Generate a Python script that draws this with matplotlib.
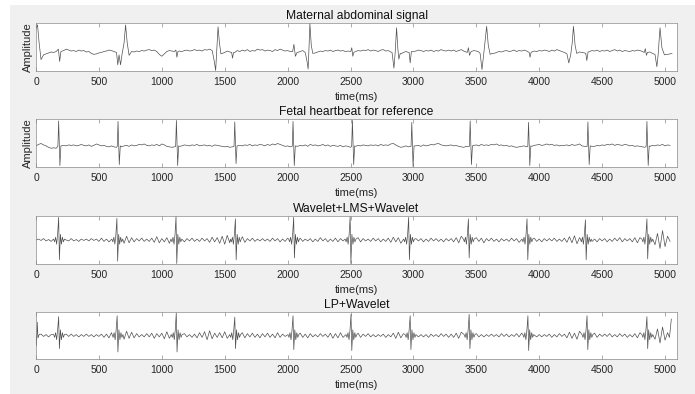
import numpy as np
import matplotlib.pyplot as plt
from matplotlib.patches import Rectangle

plt.rcParams['font.family'] = ['Liberation Sans', 'DejaVu Sans']

step_ms = 20  # spacing of the baseline samples

titles = ['Maternal abdominal signal', 'Fetal heartbeat for reference',
          'Wavelet+LMS+Wavelet', 'LP+Wavelet']
ylabels = ['Amplitude', 'Amplitude', '', '']
tick_vals = [0, 500, 1000, 1500, 2000, 2500, 3000, 3500, 4000, 4500, 5000]

# baseline samples, one row = 300 ms
mat_base = """
0 0 0 -5 -3 -1 1 0 2 0 1 4 7 5 3
4 2 5 3 4 1 2 -2 -4 -3 -1 0 2 3 5
4 2 0 0 0 0 0 0 0 1 3 2 4 3 5
6 4 5 2 -4 -8 -3 2 4 3 2 0 3 2 4
5 3 4 6 4 5 3 6 5 7 4 0 0 0 -2
0 3 1 -2 0 4 2 5 3 6 2 4 3 7 5
6 3 5 4 2 6 4 7 5 3 4 2 0 0 0
2 4 0 0 0 0 -1 1 3 2 4 3 5 2 4
5 3 4 2 3 0 0 2 4 3 5 4 6 3 5
4 2 5 6 3 4 1 0 0 0 -3 0 2 0 0
2 3 5 4 2 4 3 5 2 4 3 6 4 3 5
3 5 2 4 6 3 1 0 2 4 3 1 0 0 0
0 0 -2 0 2 1 3 4 2 3 5 2 4 3 5
3 0 1 3 2 4 3 5 4 2 5 3 6 4 2
0 0 0 0 0 -2 1 0 -1 0 2 4 3 5 2
4 3 5 2 4 6 3 5 2 4 3 2 4 3 5
4 2 0 0 1 -2 0 0 0 0 0 -4 -3
"""
mat_events = [
    [(0, 50), (12, 58), (25, 20), (40, -15), (60, -5)],
    [(178, 7), (188, -19), (198, 2)],
    [(640, 0), (650, -26), (660, -5), (672, -26), (685, -2), (700, 20), (712, 58), (725, 20), (740, -6), (760, 2)],
    [(1112, 5), (1120, -10), (1128, 2)],
    [(1405, -2), (1418, -20), (1428, -38), (1436, 0), (1447, 54), (1458, 20), (1470, -3)],
    [(1555, 0), (1562, -12), (1570, 0)],
    [(2040, 2), (2050, 17), (2062, -8), (2075, 0)],
    [(2140, 0), (2155, -20), (2163, -35), (2170, 10), (2177, 61), (2188, 15), (2200, -2)],
    [(2502, 2), (2510, 10), (2518, -8), (2526, 0)],
    [(2830, 0), (2845, -33), (2855, 0), (2866, 52), (2876, 8), (2884, -14), (2895, -2)],
    [(2966, 0), (2974, -22), (2984, 2)],
    [(3428, 0), (3437, 10), (3446, -6), (3455, 0)],
    [(3530, -2), (3545, -36), (3560, 0), (3582, 55), (3595, 15), (3610, -4), (3625, -2)],
    [(3920, 0), (3927, -10), (3935, 0)],
    [(4220, -3), (4235, -22), (4250, -5), (4262, 20), (4272, 55), (4285, 15), (4298, -2)],
    [(4370, -2), (4378, -17), (4388, 1)],
    [(4835, 0), (4843, 8), (4852, -6), (4860, 0)],
    [(4920, -4), (4935, -30), (4945, -5), (4960, 52), (4975, 10), (4995, -5), (5010, -4)],
    [(5055, -2)],
]

fet_base = """
1 4 6 3 1 -2 -4 -3 -4 0 1 2 1 3 2
3 1 2 4 2 1 3 0 2 5 3 1 2 0 -1
1 -1 -2 0 -1 1 2 0 3 1 2 4 3 5 2
1 3 2 4 1 5 3 0 -1 -2 -1 0 0 1 3
2 1 3 2 4 1 2 3 1 2 0 3 2 1 0
-1 0 -2 -1 0 0 2 1 3 2 4 1 3 2 4
3 1 4 2 5 3 6 4 2 0 1 -1 -2 0 0
2 1 3 0 4 2 3 1 2 4 1 3 0 2 1
0 2 -1 1 0 -2 0 0 2 1 3 2 1 3 2
3 1 4 2 3 2 5 6 3 0 -2 -1 1 -1 0
0 1 2 0 3 1 2 4 3 5 6 3 2 1 2
3 1 2 0 -1 -2 0 0 0 2 3 1 4 2 3
2 4 3 5 2 3 1 2 0 1 -1 -2 -1 0 1
-1 0 0 2 3 4 2 3 5 3 4 2 3 1 2
2 3 1 4 2 3 5 1 0 -2 -1 0 0 2 1
3 2 4 3 5 2 4 3 2 4 3 1 2 0 1
0 -1 -2 0 0 2 1 3 2 4 1 3 2
"""
fet_beats = [180, 652, 1116, 1580, 2043, 2515, 2987, 3451, 3915, 4387, 4856]
fet_up = [53, 52, 54, 51, 52, 54, 50, 53, 50, 51, 52]
fet_down = [-40, -38, -40, -36, -40, -38, -42, -38, -40, -38, -40]

lms_base = """
0 2 -1 3 -2 1 -3 2 0 0 0 0 0 -2 3
-2 1 -3 2 -1 2 -2 3 -1 2 -3 4 -3 2 -4
5 0 0 0 0 -7 8 -6 5 -4 3 -2 4 -3 2
-3 4 -5 7 -6 3 -4 5 -7 0 0 0 0 6 -4
3 -2 4 -3 2 -3 4 -2 3 -5 6 -4 5 -7 8
-9 10 -6 0 0 0 0 7 -5 3 -2 4 -3 2 -2
3 -2 2 -3 4 -2 3 -4 2 -3 4 0 0 0 0
4 -3 2 -2 3 -4 2 -3 5 -2 3 -4 2 -3 4
-4 3 -2 0 0 0 0 0 5 -4 3 -2 2 -3 4
-2 3 -4 2 -3 4 -5 6 -4 5 -7 8 0 0 0
0 3 -2 3 -4 2 -3 4 -2 3 -3 2 -4 3 -2
3 -4 5 -6 8 0 0 0 0 0 5 -3 4 -6 3
-2 4 -3 2 -4 3 -2 2 -3 4 -2 3 -5 6 -4
0 0 0 4 -3 2 -4 3 -2 3 -2 4 -3 2 -3
4 -5 7 -6 9 -8 5 0 0 0 0 -3 2 -4 3
-2 3 -4 2 -3 4 -2 5 -4 3 -2 3 -4 5 -6
5 0 0 0 0 0 -10 14 -18 20 -14 8 -3
"""
lms_beats = [180, 643, 1113, 1585, 2048, 2497, 2962, 3437, 3903, 4367, 4856]
lms_up = [48, 46, 50, 45, 48, 50, 48, 45, 45, 43, 45]
lms_down = [-42, -45, -50, -42, -38, -50, -42, -38, -42, -42, -40]

lp_base = """
0 0 3 -2 2 -3 2 0 0 0 0 0 3 -2 3
-2 2 -3 2 -2 3 -2 2 -3 2 -2 3 -4 3 -5
6 0 0 0 0 -8 9 -6 7 -5 4 -3 2 -3 4
-3 5 -6 4 -3 5 -7 8 -6 0 0 0 0 0 4
-3 2 -4 3 -5 6 -4 8 -9 10 -7 5 -4 6 -5
8 -6 0 0 0 0 0 6 -5 4 -3 5 -4 3 -5
4 -3 5 -4 3 -5 6 -4 3 -2 3 0 0 0 0
5 -4 3 -5 4 -3 2 -3 4 -2 3 -4 5 -6 4
-5 6 -4 3 0 0 0 0 5 -4 3 -2 4 -3 2
-3 2 -2 3 -4 2 -3 5 -6 7 -5 4 0 0 0
0 4 -3 2 -3 2 -4 3 -2 2 -3 4 -2 3 -4
3 -4 5 -6 7 -5 0 0 0 0 4 -3 2 -3 2
-2 3 -2 2 -3 4 -2 3 -3 2 -2 4 -3 5 -6
0 0 0 4 -3 2 -3 2 -2 3 -4 2 -3 4 -2
3 -5 7 -6 5 -8 9 0 0 0 0 0 5 -4 3
-2 3 -2 4 -3 2 -3 4 -2 3 -4 2 -3 4 -5
6 0 0 0 0 0 -8 14 -16 18 -10 6 0
"""
lp_beats = [180, 645, 1115, 1580, 2043, 2504, 2974, 3443, 3910, 4380, 4856]
lp_up = [40, 42, 48, 39, 42, 45, 42, 45, 42, 42, 40]
lp_down = [-28, -35, -35, -28, -30, -32, -30, -28, -32, -30, -28]
lp_extra = [[(0, 0), (4, -22), (10, 28), (16, -5), (25, 2)], [(5035, -4), (5050, 35)]]

# shape of one beat (offset in ms)
fet_shape_off = [-6, 0, 10, 18]
fet_shape = [0, 'U', 'D', 1]
wav_shape_off = [-40, -32, -24, -16, -8, 0, 6, 14, 22, 30, 38, 46]
wav_shape = [2, -4, 6, -9, 12, 'U', 'D', 12, -9, 6, -4, 2]


def beat_groups(beats, up, down, offs, shape):
    groups = []
    for t, u, d in zip(beats, up, down):
        vals = [u if v == 'U' else d if v == 'D' else v for v in shape]
        groups.append([(t + o, v) for o, v in zip(offs, vals)])
    return groups


def assemble(base, groups):
    vb = np.array(base.split(), dtype=float)
    tb = np.arange(len(vb)) * step_ms
    keep = np.ones(len(tb), bool)
    for g in groups:
        keep &= ~((tb >= g[0][0] - 4) & (tb <= g[-1][0] + 4))
    pts = list(zip(tb[keep], vb[keep]))
    for g in groups:
        pts += g
    pts.sort()
    t, v = zip(*pts)
    return np.array(t), np.array(v)


fet_groups = beat_groups(fet_beats, fet_up, fet_down, fet_shape_off, fet_shape)
lms_groups = beat_groups(lms_beats, lms_up, lms_down, wav_shape_off, wav_shape)
lp_groups = beat_groups(lp_beats, lp_up, lp_down, wav_shape_off, wav_shape) + lp_extra

signals = [assemble(mat_base, mat_events),
           assemble(fet_base, fet_groups),
           assemble(lms_base, lms_groups),
           assemble(lp_base, lp_groups)]
ylims = [(-39, 62), (-43, 57), (-51, 51), (-50, 50)]

W, H = 695, 394
fig = plt.figure(figsize=(W / 100, H / 100), dpi=100, facecolor='white')
fig.patches.append(Rectangle((10 / W, 0), 1, 1 - 5 / H, transform=fig.transFigure,
                             facecolor='#f0f0f0', edgecolor='none', zorder=-10))

boxes = [(23, 71), (119, 167), (216, 264), (312, 359)]
for i, (top, bot) in enumerate(boxes):
    ax = fig.add_axes([36 / W, 1 - bot / H, 641 / W, (bot - top) / H])
    t, v = signals[i]
    ax.plot(t, v, color='#505050', lw=0.5)
    ax.set_xlim(0, 5095)
    ax.set_ylim(*ylims[i])
    ax.set_xticks(tick_vals)
    ax.set_xticklabels([str(x) for x in tick_vals])
    ax.set_yticks([])
    ax.tick_params(axis='x', direction='in', top=True, length=3, width=0.5,
                   color='#8a8a8a', labelsize=7.5, pad=4, labelcolor='#262626')
    for s in ax.spines.values():
        s.set_linewidth(0.5)
        s.set_color('#8a8a8a')
    ax.set_title(titles[i], fontsize=8.7, pad=3, color='#111111')
    ax.set_xlabel('time(ms)', fontsize=8, labelpad=4, color='#262626')
    if ylabels[i]:
        ax.set_ylabel(ylabels[i], fontsize=8, labelpad=2, color='#262626')

fig.savefig('out.png', dpi=100, facecolor=fig.get_facecolor())
